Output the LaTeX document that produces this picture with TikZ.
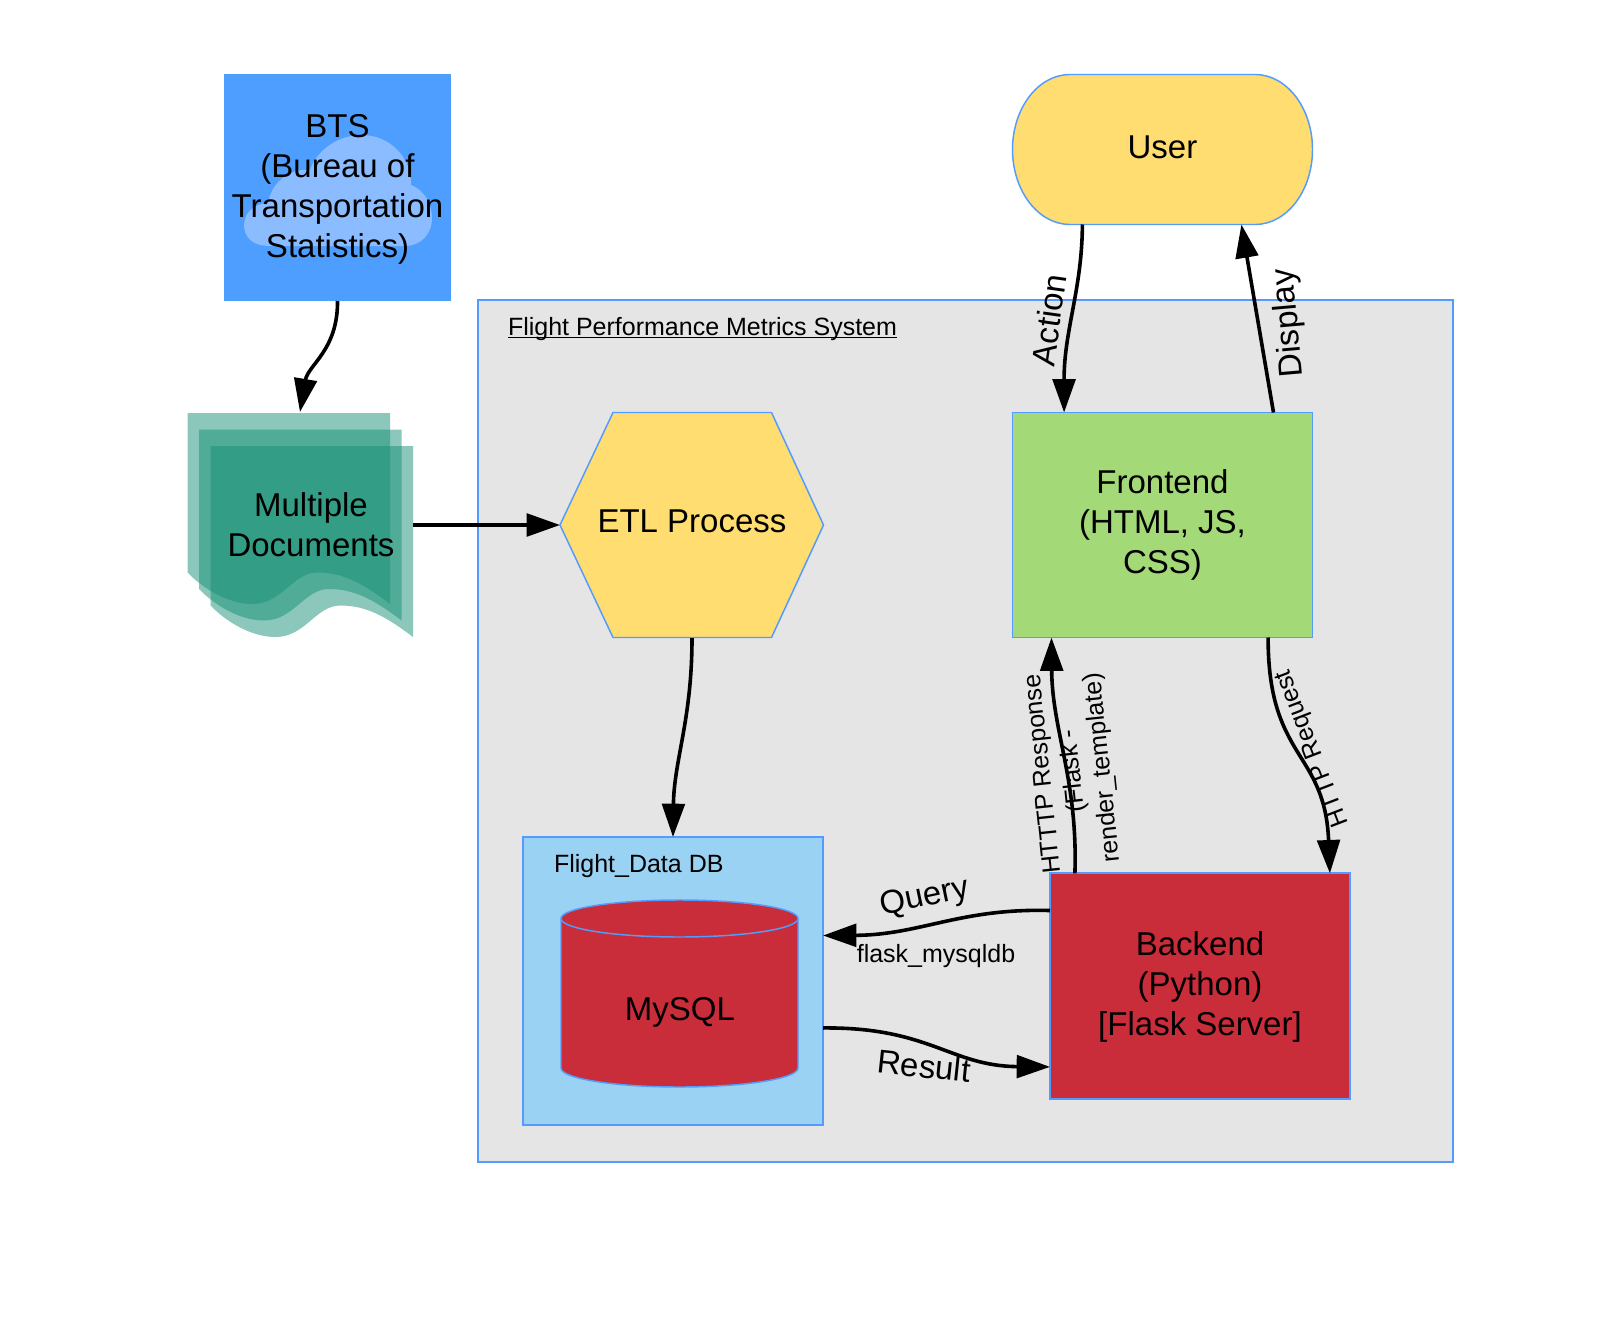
\documentclass[tikz,border=0pt]{standalone}
\usepackage{fontspec}
\setmainfont{Liberation Sans}
\usetikzlibrary{arrows.meta,calc}
\definecolor{edgeblue}{RGB}{83,155,255}
\definecolor{skyfill}{RGB}{78,158,255}
\definecolor{cloudfill}{RGB}{138,188,255}
\definecolor{docfill}{RGB}{23,143,117}
\definecolor{sunfill}{RGB}{255,221,113}
\definecolor{leaffill}{RGB}{163,217,119}
\definecolor{brickfill}{RGB}{201,45,57}
\definecolor{paleblue}{RGB}{153,210,243}
\definecolor{sysgray}{RGB}{229,229,229}
\tikzset{
  every picture/.style={line width=0.75pt},
  bigtext/.style={font=\fontsize{24.75pt}{30pt}\selectfont,align=center,inner sep=0pt},
  smalltext/.style={font=\fontsize{18.75pt}{22.5pt}\selectfont,align=center,inner sep=0pt},
  blockbox/.style={draw=edgeblue,line width=1.1pt,outer sep=0pt,inner sep=0pt,bigtext},
  outlined/.style={draw=edgeblue,line width=1.1pt},
  flowline/.style={line width=2.7pt,-{Triangle[length=25pt,width=17pt]}},
  docpage/.style={fill=docfill,fill opacity=0.5},
}

\begin{document}
\begin{tikzpicture}[x=0.75pt,y=0.75pt,yscale=-1,xscale=1]
\useasboundingbox (0,0) rectangle (1600,1338);

%System frame
\node [blockbox,fill=sysgray,minimum width=731.25pt,minimum height=646.5pt] (system) at (965.5,731) {};
\node [smalltext,anchor=base west] (systemtitle) at (507.5,335) {$\underline{\hbox{\smash{Flight Performance Metrics System}}}$};

%BTS source with cloud behind its text
\node [outer sep=0pt,inner sep=0pt,fill=skyfill,minimum width=170.25pt,minimum height=170.25pt] (bts) at (337.5,187.5) {};
\fill [cloudfill] (270,246) .. controls (250,246) and (244,235) .. (244,225) .. controls (244,212) and (256,203) .. (268,203)
  .. controls (272,180) and (292,168) .. (310,170) .. controls (318,148) and (340,135) .. (362,135)
  .. controls (390,135) and (412,158) .. (411,185) .. controls (425,190) and (432,205) .. (432,218)
  .. controls (432,235) and (420,246) .. (405,246) -- cycle;
\node [bigtext] (btstext) at (337.5,189) {BTS\\(Bureau of\\Transportation\\Statistics)};

%Stacked documents
\foreach \dx/\dy in {187.5/413,199/429.5,210.5/446}{
  \begin{scope}[shift={(\dx,\dy)}]
    \fill [docpage] (0,0) -- (202.5,0) -- (202.5,191) .. controls (175,170) and (155,159.5) .. (130,159.5)
      .. controls (105,159.5) and (95,191) .. (65,191) .. controls (40,191) and (15,175) .. (0,159.5) -- cycle;
  \end{scope}
}
\node [bigtext] (docs) at (311,525) {Multiple\\Documents};
\coordinate (docsin) at (300,412);
\coordinate (docsout) at (413,525);

%ETL hexagon
\draw [outlined,fill=sunfill] (560,525) -- (613,412.5) -- (771.5,412.5) -- (823.5,525) -- (771.5,637.5) -- (613,637.5) -- cycle;
\node [bigtext] (etl) at (692,521) {ETL Process};
\coordinate (etlwest) at (560,525);
\coordinate (etlsouth) at (692,638);

%User, arcs wider than the corners of a node allow
\draw [outlined,fill=sunfill] (1070,74.5) -- (1255,74.5) arc[start angle=-90,end angle=90,x radius=57.5,y radius=75]
  -- (1070,224.5) arc[start angle=90,end angle=270,x radius=57.5,y radius=75] -- cycle;
\node [bigtext,outer sep=0pt,minimum width=225pt,minimum height=112.5pt,text depth=0pt] (user) at (1162.5,149.5) {};
\node [bigtext] (usertext) at (1162.5,147) {User};

\node [blockbox,fill=leaffill,minimum width=225pt,minimum height=168.75pt] (frontend) at (1162.5,525) {Frontend\\(HTML, JS,\\CSS)};
\node [blockbox,line width=1.5pt,fill=brickfill,minimum width=225pt,minimum height=169pt] (backend) at (1200,986) {};
\node [bigtext] (backendtext) at (1200,987) {Backend\\(Python)\\{}[Flask Server]};

%Database box
\node [blockbox,line width=1.5pt,fill=paleblue,minimum width=225pt,minimum height=216pt] (flightdb) at (673,981) {};
\node [smalltext,anchor=base west] (flightdbtitle) at (553.5,872.5) {Flight\_Data DB};
\draw [outlined,fill=brickfill] (561,918.5) -- (561,1068) arc[start angle=180,end angle=0,x radius=118.5,y radius=19] -- (798,918.5);
\draw [outlined,fill=brickfill] (679.5,918.5) ellipse [x radius=118.5,y radius=18.5];
\node [bigtext] (mysql) at (680,1012) {MySQL};

%Connectors
\draw [flowline] (bts.south) .. controls (338,350) and (308,365) .. (docsin);
\draw [flowline] (docsout) -- (etlwest);
\draw [flowline] (etlsouth) .. controls (692,720) and (674,760) .. ($(flightdb.north west)!0.5!(flightdb.north east)$);
\draw [flowline] ($(user.south west)!0.233!(user.south east)$) .. controls (1082,290) and (1064,330) .. ($(frontend.north west)!0.172!(frontend.north east)$);
\draw [flowline] ($(frontend.north west)!0.87!(frontend.north east)$) -- ($(user.south west)!0.763!(user.south east)$);
\draw [flowline] ($(backend.north west)!0.083!(backend.north east)$) .. controls (1078,780) and (1052,730) .. ($(frontend.south west)!0.13!(frontend.south east)$);
\draw [flowline] ($(frontend.south west)!0.852!(frontend.south east)$) .. controls (1268,760) and (1325,750) .. ($(backend.north west)!0.933!(backend.north east)$);
\draw [flowline] ($(backend.north west)!0.165!(backend.south west)$) .. controls (960,908) and (920,935) .. ($(flightdb.north east)!0.342!(flightdb.south east)$);
\draw [flowline] ($(flightdb.north east)!0.663!(flightdb.south east)$) .. controls (930,1027) and (950,1066) .. ($(backend.north west)!0.859!(backend.south west)$);

%Connector labels
\node [bigtext,rotate=82] (actionlabel) at (1049,320) {Action};
\node [bigtext,rotate=95] (displaylabel) at (1289,323) {Display};
\node [smalltext,rotate=96] (responselabel) at (1074,771) {HTTTP Response\\(Flask -\\render\_template)};
\node [smalltext,rotate=111] (requestlabel) at (1313,748) {HTTP Request};
\node [bigtext,rotate=12] (querylabel) at (925,898) {Query};
\node [bigtext,rotate=-6] (resultlabel) at (924,1066) {Result};
\node [smalltext] (flasklabel) at (936,956) {flask\_mysqldb};

\end{tikzpicture}
\end{document}
